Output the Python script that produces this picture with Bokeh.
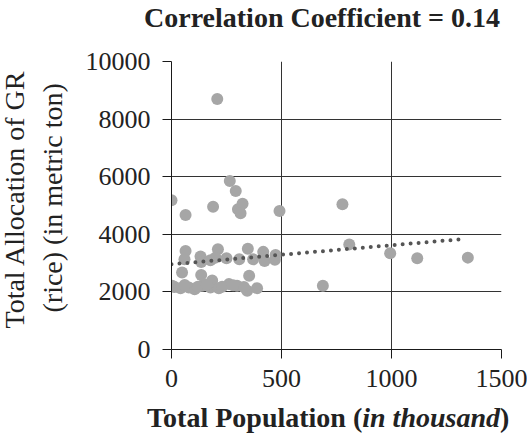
from bokeh.plotting import figure
from bokeh.models import ColumnDataSource, FixedTicker, Range1d, Grid, Title, Div
from bokeh.layouts import column
from bokeh.embed import file_html
from bokeh.resources import INLINE

# Total population (thousand) and total GR rice allocation (metric ton) per district
population = [
    208, 0, 64, 189, 265, 292, 302, 323, 314, 491, 777, 808, 994, 1117, 1347, 688,
    64, 59, 132, 135, 177, 211, 200, 250, 308, 347, 371, 417, 423, 470, 473,
    48, 135, 353, 3, 14, 41, 79, 105, 139, 185, 177, 215, 261, 298, 344, 389, 329,
    60, 120, 160, 230, 280,
]
allocation = [
    8700, 5180, 4670, 4960, 5850, 5500, 4870, 5060, 4730, 4810, 5040, 3650, 3340, 3170, 3190, 2210,
    3420, 3130, 3230, 3040, 3100, 3480, 3190, 3170, 3130, 3500, 3130, 3390, 3070, 3120, 3280,
    2670, 2590, 2560, 2210, 2170, 2130, 2150, 2090, 2210, 2400, 2150, 2130, 2270, 2210, 2040, 2130, 2170,
    2240, 2180, 2250, 2180, 2230,
]

# Linear trend line end points
trend_x = [0, 1320]
trend_y = [2960, 3830]

x_ticks = [0, 500, 1000, 1500]
y_ticks = [0, 2000, 4000, 6000, 8000, 10000]

FONT = "Liberation Serif"
INK = "#222222"


def text_block(html, height, line_height, left):
    return Div(
        text=(f'<div style="font-family:\'{FONT}\';font-size:28px;font-weight:bold;'
              f'color:{INK};line-height:{line_height}px;margin-left:{left}px;'
              f'white-space:nowrap">{html}</div>'),
        width=527, height=height, margin=0,
    )


title = text_block("Correlation Coefficient = 0.14", 40, 35, 144)

p = figure(
    width=527, height=355,
    output_backend="svg", toolbar_location=None,
    x_range=Range1d(0, 1500), y_range=Range1d(0, 10000),
    min_border_left=171, min_border_right=26,
    min_border_top=21, min_border_bottom=46,
    margin=0,
)
p.outline_line_color = None
p.background_fill_color = "white"
p.border_fill_color = "white"

# axes
for ax, ticks in ((p.xaxis[0], x_ticks), (p.yaxis[0], y_ticks)):
    ax.ticker = FixedTicker(ticks=ticks)
    ax.minor_tick_line_color = None
    ax.major_tick_in = 0
    ax.major_tick_out = 9
    ax.axis_line_color = "#1a1a1a"
    ax.major_tick_line_color = "#1a1a1a"
    ax.major_label_text_font = FONT
    ax.major_label_text_font_size = "26px"
    ax.major_label_text_color = INK
p.xaxis.major_label_standoff = 11
p.yaxis.major_label_standoff = 12

# y axis title, two lines stacked outward from the axis
for txt, off, gap, valign in (("(rice) (in metric ton)", 37, 30, "bottom"),
                              ("Total Allocation of GR", 21, -25, "top")):
    p.add_layout(Title(text=txt, align="left", offset=off, standoff=gap,
                       vertical_align=valign,
                       text_font=FONT, text_font_size="28px",
                       text_font_style="normal", text_color=INK), "left")

# grid: horizontal lines at every y tick, vertical lines at interior x ticks
p.xgrid.visible = False
p.ygrid.grid_line_color = "#333333"
p.ygrid.grid_line_width = 1
p.add_layout(Grid(dimension=0, ticker=FixedTicker(ticks=[500, 1000]),
                  grid_line_color="#333333", grid_line_width=1))

src = ColumnDataSource(dict(x=population, y=allocation))
p.scatter("x", "y", source=src, size=12, fill_color="#a6a6a6", line_color=None)

p.line(trend_x, trend_y, line_color="#555555", line_width=4,
       line_dash="0 8", line_cap="round")

# x axis title, with the unit in italics
xlabel = text_block("Total Population (<i>in thousand</i>)", 42, 45, 147)

open("out.html", "w").write(file_html(column(title, p, xlabel, spacing=0), INLINE))
